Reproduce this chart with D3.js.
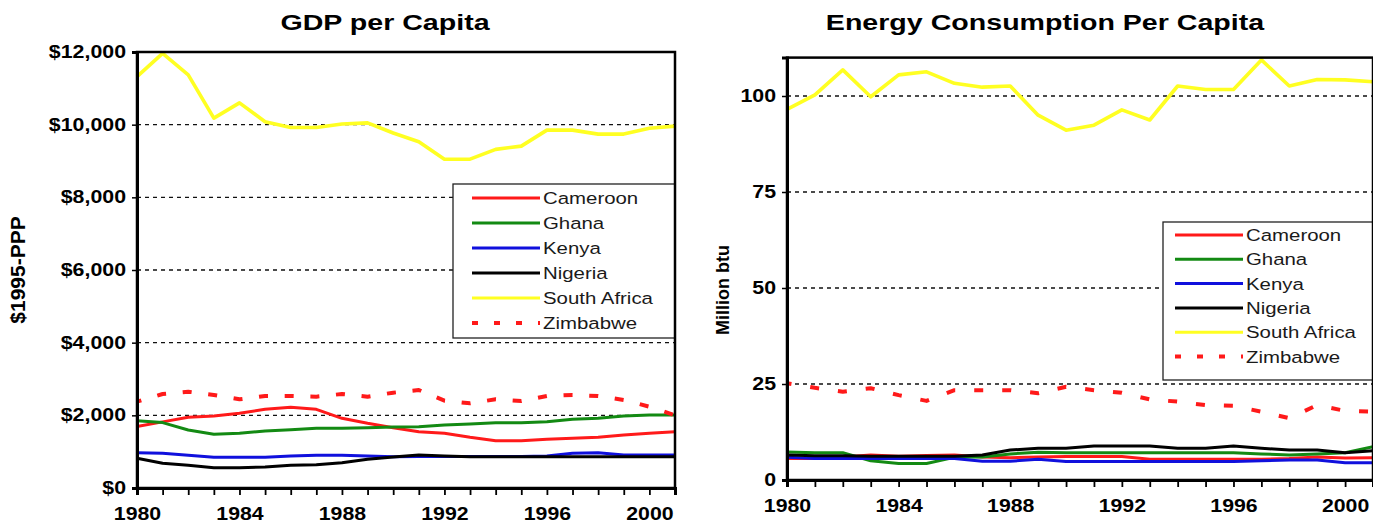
<!DOCTYPE html>
<html><head><meta charset="utf-8">
<script src="https://cdn.jsdelivr.net/npm/d3@7"></script>
<style>body{margin:0;background:#fff}svg{display:block}</style>
</head><body>
<svg id="c" width="1373" height="531"></svg>
<script>
const years = [1980,1981,1982,1983,1984,1985,1986,1987,1988,1989,1990,1991,1992,1993,1994,1995,1996,1997,1998,1999,2000,2001];
const countries = ["Cameroon","Ghana","Kenya","Nigeria","South Africa","Zimbabwe"];
const colors = ["#ff1a1a","#138a13","#1010dd","#000000","#ffff22","#ff1a1a"];
const yearLabels = [1980,1984,1988,1992,1996,2000];

const gdpCameroon = [1690,1820,1946,1980,2055,2165,2220,2165,1918,1780,1660,1550,1505,1395,1303,1303,1340,1368,1395,1459,1505,1550];
const gdpGhana    = [1853,1800,1596,1477,1505,1570,1600,1643,1643,1660,1680,1688,1734,1762,1798,1798,1826,1890,1918,1982,2009,2009];
const gdpKenya    = [972,954,899,845,845,845,880,900,900,880,860,870,870,870,870,870,880,954,972,908,908,908];
const gdpNigeria  = [817,680,625,560,560,580,625,640,697,790,850,908,880,862,862,862,862,862,862,862,862,862];
const gdpSouthAfrica = [11320,11960,11370,10180,10600,10080,9920,9920,10020,10050,9770,9530,9050,9050,9320,9410,9850,9850,9740,9740,9900,9960];
const gdpZimbabwe = [2376,2587,2651,2560,2441,2532,2532,2514,2587,2514,2624,2697,2404,2331,2441,2395,2532,2560,2532,2422,2238,2000];
const gdpTicks = [0,2000,4000,6000,8000,10000,12000];
const gdpTickLabels = ["$0","$2,000","$4,000","$6,000","$8,000","$10,000","$12,000"];

const enCameroon = [5.6,5.6,6.0,6.5,6.2,6.4,6.5,6.0,5.8,6.0,6.1,6.1,6.1,5.4,5.4,5.4,5.4,5.4,5.6,6.0,5.7,5.8];
const enGhana    = [7.3,7.1,7.1,5.0,4.3,4.3,5.9,6.0,6.8,7.2,7.1,7.1,7.1,7.1,7.1,7.1,7.1,6.8,6.5,6.8,7.1,8.7];
const enKenya    = [5.9,5.6,5.6,5.6,5.6,5.6,5.6,4.9,4.9,5.4,4.8,4.8,4.8,4.8,4.8,4.8,4.8,5.0,5.2,5.2,4.5,4.5];
const enNigeria  = [6.5,6.3,6.3,6.2,6.2,6.2,6.2,6.5,7.8,8.25,8.25,8.85,8.85,8.85,8.25,8.25,8.85,8.25,7.8,7.8,7.1,7.6];
const enSouthAfrica = [96.5,100.3,106.8,99.8,105.5,106.3,103.3,102.3,102.6,95.0,91.1,92.4,96.4,93.75,102.6,101.7,101.7,109.4,102.6,104.3,104.2,103.7];
const enZimbabwe = [25.2,24.0,23.0,23.9,22.1,20.6,23.4,23.4,23.4,22.6,24.3,23.4,22.7,21.0,20.4,19.5,19.3,17.8,16.1,19.5,18.0,17.8];
const enTicks = [0,25,50,75,100];
const enTickLabels = ["0","25","50","75","100"];

const svg = d3.select("#c");
const FONT = "'Liberation Sans', Arial, sans-serif";

function stretchedText(g, x, y, s, size, weight, anchor, sx, rot, fill) {
  const gg = g.append("g").attr("transform", `translate(${x},${y})${rot ? " rotate(" + rot + ")" : ""} scale(${sx},1)`);
  gg.append("text").attr("text-anchor", anchor).attr("font-family", FONT)
    .attr("font-size", size).attr("font-weight", weight).attr("fill", fill || "#000").text(s);
}

function drawChart(cfg) {
  const g = svg.append("g");
  const x = d3.scaleLinear().domain([years[0], years[years.length - 1]]).range([cfg.left, cfg.right]);
  const y = d3.scaleLinear().domain([0, cfg.ymax]).range([cfg.bottom, cfg.top]);

  // gridlines
  g.selectAll(".grid").data(cfg.ticks.filter(t => t > 0 && t < cfg.ymax)).enter().append("line")
    .attr("x1", cfg.left).attr("x2", cfg.right).attr("y1", d => y(d)).attr("y2", d => y(d))
    .attr("stroke", "#111").attr("stroke-width", 1.4).attr("stroke-dasharray", "4,4");

  // legend box
  const L = cfg.legend;
  g.append("rect").attr("x", L.x).attr("y", L.y).attr("width", L.w).attr("height", L.h)
    .attr("fill", "#fff").attr("stroke", "#222").attr("stroke-width", 1.3);

  // series
  const line = d3.line().x((d, i) => x(years[i])).y(d => y(d));
  cfg.series.forEach((s, k) => {
    const p = g.append("path").datum(s).attr("d", line).attr("fill", "none")
      .attr("stroke", colors[k]).attr("stroke-width", k === 4 ? 3.6 : 3).attr("stroke-linejoin", "round");
    if (k === 5) {
      p.attr("stroke-width", 4).attr("stroke-dasharray", cfg.dash).attr("stroke-dashoffset", 4.5);
    }
  });

  // legend entries
  countries.forEach((c, k) => {
    const yy = L.y + L.first + k * L.step;
    const ln = g.append("line").attr("x1", L.x + L.lx1).attr("x2", L.x + L.lx2).attr("y1", yy).attr("y2", yy)
      .attr("stroke", colors[k]).attr("stroke-width", k === 5 ? 4 : 3);
    if (k === 5) ln.attr("stroke-dasharray", "6,16");
    stretchedText(g, L.x + L.lx2 + 3, yy + 6, c, 17, "normal", "start", 1.2, 0, "#1a1a1a");
  });

  // frame
  g.append("rect").attr("x", cfg.left).attr("y", cfg.top).attr("width", cfg.right - cfg.left).attr("height", cfg.bottom - cfg.top)
    .attr("fill", "none").attr("stroke", "#000").attr("stroke-width", 2.5);

  // y axis
  const ya = d3.axisLeft(y).tickValues(cfg.ticks).tickFormat((d, i) => cfg.tickLabels[i]).tickSize(5).tickPadding(6);
  const yg = g.append("g").attr("transform", `translate(${cfg.left},0)`).call(ya);
  yg.select(".domain").attr("stroke", "#000").attr("stroke-width", 3);
  yg.selectAll(".tick line").attr("stroke", "#000").attr("stroke-width", 1.5);
  yg.selectAll(".tick text").attr("font-family", FONT).attr("font-size", 17.5).attr("font-weight", "bold")
    .attr("fill", "#000").attr("transform", "scale(1.22,1)").attr("x", -9);

  // x axis
  const xa = d3.axisBottom(x).tickValues(years).tickSize(7).tickFormat(d => yearLabels.includes(d) ? String(d) : "");
  const xg = g.append("g").attr("transform", `translate(0,${cfg.bottom})`).call(xa);
  xg.select(".domain").attr("stroke", "#000").attr("stroke-width", 3);
  xg.selectAll(".tick line").attr("stroke", "#000").attr("stroke-width", 1.8);
  xg.selectAll(".tick text").attr("font-family", FONT).attr("font-size", 19).attr("font-weight", "bold")
    .attr("fill", "#000").attr("y", 19).attr("transform", "scale(1.12,1)");

  // title + axis title
  stretchedText(g, cfg.titleX, 30, cfg.title, 22, "bold", "middle", 1.3, 0);
  stretchedText(g, cfg.axTitleX, cfg.axTitleY, cfg.axTitle, cfg.axTitleSize, "bold", "middle", 1, -90);
}

drawChart({
  left: 137, right: 675, top: 52, bottom: 488, ymax: 12000,
  ticks: gdpTicks, tickLabels: gdpTickLabels,
  series: [gdpCameroon, gdpGhana, gdpKenya, gdpNigeria, gdpSouthAfrica, gdpZimbabwe],
  dash: "9,16.7",
  legend: {x: 453, y: 184, w: 222, h: 154, first: 14, step: 25, lx1: 19, lx2: 87},
  title: "GDP per Capita", titleX: 385,
  axTitle: "$1995-PPP", axTitleX: 25, axTitleY: 270, axTitleSize: 21
});

drawChart({
  left: 787, right: 1373, top: 57.6, bottom: 480, ymax: 110,
  ticks: enTicks, tickLabels: enTickLabels,
  series: [enCameroon, enGhana, enKenya, enNigeria, enSouthAfrica, enZimbabwe],
  dash: "9,19",
  legend: {x: 1163, y: 222, w: 212, h: 158, first: 13, step: 24.3, lx1: 12, lx2: 80},
  title: "Energy Consumption Per Capita", titleX: 1045,
  axTitle: "Million btu", axTitleX: 729, axTitleY: 290, axTitleSize: 18
});
</script>
</body></html>
